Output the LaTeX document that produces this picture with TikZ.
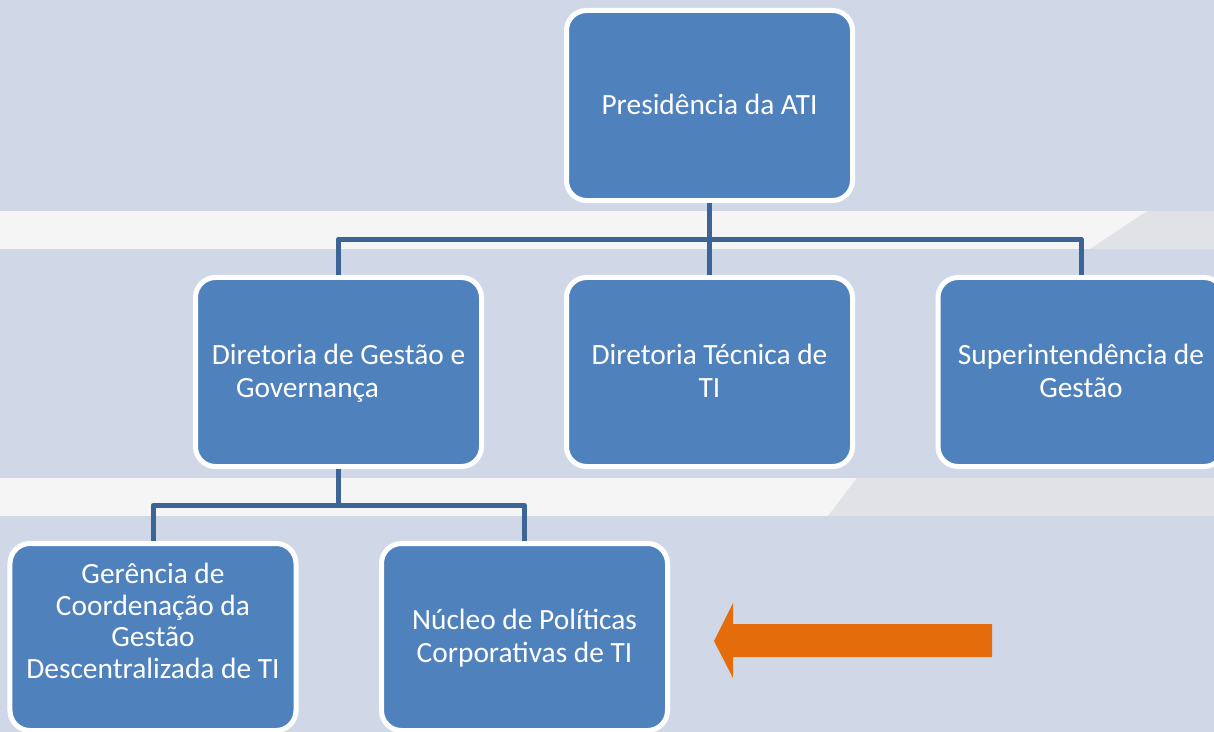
\documentclass[tikz,border=0pt]{standalone}
\usepackage{fontspec}
\setmainfont{Carlito}
\definecolor{bgblue}{HTML}{D0D8E8}
\definecolor{bandwhite}{HTML}{F5F5F5}
\definecolor{bandgrey}{HTML}{E1E2E5}
\definecolor{boxblue}{HTML}{4F81BD}
\definecolor{connblue}{HTML}{3D6496}
\definecolor{arroworange}{HTML}{E46C0A}
\newcommand{\mystrut}{\rule[-7bp]{0pt}{32bp}}
\tikzset{
  orgbox/.style={draw=white, line width=5bp, fill=boxblue, rounded corners=20bp,
    minimum width=286bp, minimum height=189bp, inner sep=0pt, outer sep=2.5bp,
    text=white, align=center, font=\fontsize{29.5}{32}\selectfont},
  boxtext/.style={inner sep=0pt, text=white, align=center, font=\fontsize{29.5}{32}\selectfont},
  conn/.style={draw=connblue, line width=5bp, line join=round}
}
\begin{document}
\begin{tikzpicture}[x=1bp, y=-1bp]
\useasboundingbox (0,0) rectangle (1214,732);
\clip (0,0) rectangle (1214,732);
% background
\fill[bgblue] (0,0) rectangle (1214,732);
\fill[bandwhite] (0,211) rectangle (1214,249);
\fill[bandgrey] (1147,211) -- (1214,211) -- (1214,249) -- (1090,249) -- cycle;
\fill[bandwhite] (0,478) rectangle (1214,516);
\fill[bandgrey] (857,478) -- (1214,478) -- (1214,516) -- (828,516) -- cycle;
% boxes
\node[orgbox, minimum height=190bp] (pres) at (709.5,105.5) {\mystrut Presidência da ATI};
\node[orgbox] (gest) at (338.5,372) {\mystrut Diretoria de Gestão e\\\hbox{Governança\kern62bp}\mystrut};
\node[orgbox] (tec) at (709.5,372) {\mystrut Diretoria Técnica de\\TI\mystrut};
\node[orgbox] (sup) at (1081,372) {\mystrut Superintendência de\\Gestão\mystrut};
\node[orgbox, minimum height=187bp] (ger) at (153,637) {};
\node[boxtext] (gerT) at (153,622) {\mystrut Gerência de\\Coordenação da\\Gestão\\Descentralizada de TI\mystrut};
\node[orgbox, minimum height=187bp] (nuc) at (524.5,637) {\mystrut Núcleo de Políticas\\Corporativas de TI\mystrut};
% connectors
\coordinate (bus1) at (709.5,239);
\coordinate (bus2) at (338.5,505.5);
\draw[conn] (gest.north) |- (bus1) -| (sup.north);
\draw[conn] (pres.south) -- (tec.north);
\draw[conn] (gest.south) -- (bus2);
\draw[conn] (ger.north) |- (bus2) -| (nuc.north);
% orange arrow
\fill[arroworange] (714,641) -- (733,603) -- (733,624) -- (992,624) -- (992,657) -- (733,657) -- (733,678) -- cycle;
\end{tikzpicture}
\end{document}
